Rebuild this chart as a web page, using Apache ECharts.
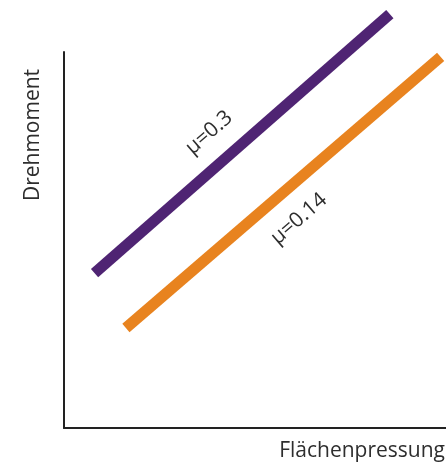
<!DOCTYPE html>
<html>
<head>
<meta charset="utf-8">
<script src="https://cdn.jsdelivr.net/npm/echarts@6/dist/echarts.min.js"></script>
<style>html,body{margin:0;padding:0;background:#fff}#c{width:446px;height:468px}</style>
</head>
<body>
<div id="c"></div>
<script>
// Data (arbitrary units, axes 0..100)
var seriesNames = ['μ=0.3', 'μ=0.14'];
var purpleX = [8, 85.3];
var purpleY = [41.2, 110.1];
var orangeX = [16.2, 98.6];
var orangeY = [26.6, 98.7];
// label anchor points in data units
var labelX = [38, 61.5];
var labelY = [78.5, 55.6];
var xAxisName = 'Flächenpressung';
var yAxisName = 'Drehmoment';

var FONT = 'Open Sans';
var TXT = '#2e2e2e';

function pts(xs, ys) { return xs.map(function (x, i) { return [x, ys[i]]; }); }

var colors = ['#4f2473', '#e8831f'];
var lines = [pts(purpleX, purpleY), pts(orangeX, orangeY)];

var series = lines.map(function (d, i) {
  return {
    type: 'line',
    name: seriesNames[i],
    data: d,
    symbol: 'none',
    clip: false,
    silent: true,
    lineStyle: { color: colors[i], width: 11, cap: 'butt' },
    markPoint: {
      symbol: 'circle',
      symbolSize: 0,
      silent: true,
      data: [{ coord: [labelX[i], labelY[i]] }],
      label: {
        show: true,
        position: 'inside',
        formatter: seriesNames[i],
        rotate: 41,
        color: TXT,
        fontFamily: FONT,
        fontSize: 21
      }
    }
  };
});

var chart = echarts.init(document.getElementById('c'), null, { renderer: 'canvas' });
chart.setOption({
  animation: false,
  grid: { left: 64, right: 0, top: 52, bottom: 40, containLabel: false },
  xAxis: {
    type: 'value', min: 0, max: 100,
    axisLine: { show: true, lineStyle: { color: '#222', width: 2 } },
    axisTick: { show: false }, axisLabel: { show: false }, splitLine: { show: false }
  },
  yAxis: {
    type: 'value', min: 0, max: 100,
    axisLine: { show: true, lineStyle: { color: '#222', width: 2 } },
    axisTick: { show: false }, axisLabel: { show: false }, splitLine: { show: false }
  },
  graphic: [
    {
      type: 'text', x: 33, y: 135, rotation: Math.PI / 2,
      style: { text: yAxisName, fill: TXT, font: '21px "' + FONT + '"', textAlign: 'center', textVerticalAlign: 'middle' }
    },
    {
      type: 'text', x: 445, y: 451,
      style: { text: xAxisName, fill: TXT, font: '21px "' + FONT + '"', textAlign: 'right', textVerticalAlign: 'middle' }
    }
  ],
  series: series
});
</script>
</body>
</html>
